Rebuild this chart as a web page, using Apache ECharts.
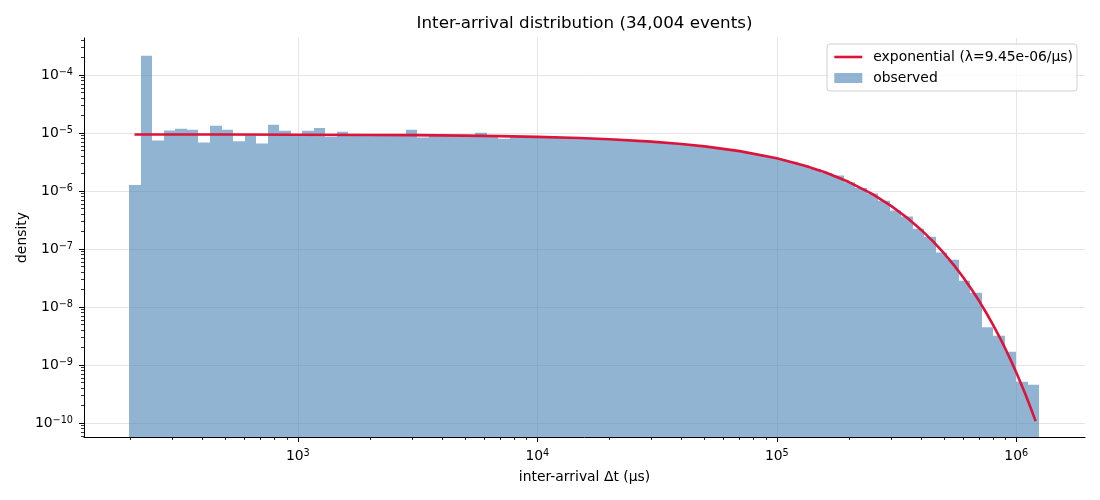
<!DOCTYPE html>
<html>
<head>
<meta charset="utf-8">
<title>Inter-arrival distribution</title>
<script src="https://cdn.jsdelivr.net/npm/echarts@6/dist/echarts.min.js"></script>
<style>
  html, body { margin: 0; padding: 0; background: #fff; }
  #chart { width: 1100px; height: 500px; }
</style>
</head>
<body>
<div id="chart"></div>
<script>
// histogram bins, log-spaced between first and last edge (in µs)
const BIN_LO = 198;
const BIN_HI = 1.25e6;
const BIN_COUNT = 79;

// observed density per bin
const density = [
  1.27e-6, 2.15e-4, 7.45e-6, 1.11e-5, 1.19e-5, 1.14e-5, 6.9e-6, 1.34e-5, 1.14e-5, 7.2e-6,
  9.1e-6, 6.6e-6, 1.39e-5, 1.10e-5, 9.6e-6, 1.10e-5, 1.22e-5, 8.6e-6, 1.05e-5, 9.4e-6,
  9.3e-6, 9.2e-6, 9.3e-6, 9.2e-6, 1.14e-5, 8.4e-6, 9.1e-6, 9.1e-6, 9.0e-6, 9.0e-6,
  1.01e-5, 8.9e-6, 7.97e-6, 8.8e-6, 8.65e-6, 8.6e-6, 8.5e-6, 8.4e-6, 8.25e-6, 8.15e-6,
  8.0e-6, 7.85e-6, 7.7e-6, 7.5e-6, 7.3e-6, 7.05e-6, 6.85e-6, 6.55e-6, 6.3e-6, 6.05e-6,
  5.7e-6, 5.4e-6, 5.05e-6, 4.7e-6, 4.3e-6, 3.85e-6, 3.55e-6, 3.2e-6, 2.8e-6, 2.4e-6,
  2.05e-6, 1.86e-6, 1.41e-6, 1.13e-6, 9.1e-7, 6.8e-7, 4.63e-7, 3.65e-7, 2.24e-7, 1.63e-7,
  8.75e-8, 6.55e-8, 2.85e-8, 1.77e-8, 4.5e-9, 3.2e-9, 1.69e-9, 5.15e-10, 4.57e-10
];

// fitted exponential curve
const fitT = [
  208, 300, 500, 1000, 2000, 3000, 5000, 7000, 10000, 15000,
  20000, 30000, 40000, 50000, 70000, 100000, 130000, 160000, 200000, 250000,
  300000, 350000, 400000, 450000, 500000, 550000, 600000, 650000, 700000, 750000,
  800000, 850000, 900000, 950000, 1000000, 1050000, 1100000, 1150000, 1204000
];
const fitDensity = [
  9.43e-6, 9.423e-6, 9.405e-6, 9.361e-6, 9.273e-6, 9.186e-6, 9.014e-6, 8.845e-6, 8.598e-6, 8.201e-6,
  7.822e-6, 7.117e-6, 6.475e-6, 5.891e-6, 4.877e-6, 3.673e-6, 2.766e-6, 2.084e-6, 1.428e-6, 8.90e-7,
  5.549e-7, 3.46e-7, 2.157e-7, 1.345e-7, 8.384e-8, 5.227e-8, 3.258e-8, 2.031e-8, 1.266e-8, 7.89e-9,
  4.92e-9, 3.07e-9, 1.913e-9, 1.192e-9, 7.43e-10, 4.63e-10, 2.89e-10, 1.80e-10, 1.08e-10
];

const xTicks = [1e3, 1e4, 1e5, 1e6];
const yTicks = [1e-10, 1e-9, 1e-8, 1e-7, 1e-6, 1e-5, 1e-4];

const X_MIN = 128, X_MAX = 1.936e6;
const Y_MIN = 5.74e-11, Y_MAX = 4.35e-4;

const FONT = 'DejaVu Sans';
const BAR_COLOR = 'rgba(70,130,180,0.6)';
const LINE_COLOR = '#dc143c';
const FIT_NAME = 'exponential (\u03bb=9.45e-06/\u03bcs)';

const edges = [];
const step = Math.log10(BIN_HI / BIN_LO) / BIN_COUNT;
for (let i = 0; i <= BIN_COUNT; i++) edges.push(BIN_LO * Math.pow(10, i * step));
const bars = density.map((d, i) => [edges[i], edges[i + 1], d]);

function minorTicks(lo, hi) {
  const out = [];
  for (let e = Math.floor(Math.log10(lo)); e <= Math.ceil(Math.log10(hi)); e++) {
    for (let m = 2; m <= 9; m++) {
      const v = m * Math.pow(10, e);
      if (v >= lo && v <= hi) out.push(v);
    }
  }
  return out;
}

function powLabel(v) {
  const e = Math.round(Math.log10(v));
  return '{b|10}{s|' + String(e).replace('-', '\u2212') + '}';
}

const labelRich = {
  b: { fontFamily: FONT, fontSize: 13.9, lineHeight: 16, color: '#000' },
  s: { fontFamily: FONT, fontSize: 9.7, lineHeight: 9, verticalAlign: 'top', color: '#000' }
};

function renderBar(params, api) {
  const top = api.coord([api.value(0), api.value(2)]);
  const bottom = api.coord([api.value(1), Y_MIN]);
  const x0 = Math.round(top[0]);
  const x1 = Math.round(bottom[0]);
  return {
    type: 'rect',
    shape: { x: x0, y: top[1], width: x1 - x0, height: bottom[1] - top[1] },
    style: api.style({ fill: BAR_COLOR, stroke: null })
  };
}

const chart = echarts.init(document.getElementById('chart'));

chart.setOption({
  backgroundColor: '#fff',
  animation: false,
  title: {
    text: 'Inter-arrival distribution (34,004 events)',
    left: 584.5,
    top: 15,
    padding: 0,
    textAlign: 'center',
    textStyle: { fontFamily: FONT, fontSize: 16.7, fontWeight: 'normal', color: '#000' }
  },
  legend: {
    orient: 'vertical',
    right: 23,
    top: 44,
    padding: [5, 4, 5, 6],
    itemWidth: 28,
    itemHeight: 10,
    itemGap: 5,
    backgroundColor: 'rgba(255,255,255,0.8)',
    borderColor: '#d0d0d0',
    borderWidth: 1,
    borderRadius: 3,
    textStyle: { fontFamily: FONT, fontSize: 13.9, color: '#000', padding: [0, 0, 0, 6], lineHeight: 16 },
    data: [
      { name: FIT_NAME, itemStyle: { opacity: 0 }, lineStyle: { width: 2.6 } },
      { name: 'observed', icon: 'rect' }
    ]
  },
  grid: { left: 84, right: 15, top: 38, bottom: 63 },
  xAxis: [
    {
      type: 'log',
      min: X_MIN,
      max: X_MAX,
      name: 'inter-arrival \u0394t (\u03bcs)',
      nameLocation: 'middle',
      nameGap: 33,
      nameMoveOverlap: false,
      nameTextStyle: { fontFamily: FONT, fontSize: 13.9, color: '#000' },
      axisLine: { show: true, lineStyle: { color: '#000', width: 1 } },
      axisTick: { show: true, length: 5, customValues: xTicks, lineStyle: { color: '#000', width: 1 } },
      axisLabel: { margin: 11, customValues: xTicks, formatter: powLabel, rich: labelRich },
      splitLine: { show: true, lineStyle: { color: '#e5e5e5', width: 1 } }
    },
    {
      type: 'log',
      min: X_MIN,
      max: X_MAX,
      position: 'bottom',
      axisLine: { show: false },
      axisTick: { show: true, length: 3, customValues: minorTicks(X_MIN, X_MAX), lineStyle: { color: '#000', width: 0.8 } },
      axisLabel: { show: false },
      splitLine: { show: false }
    }
  ],
  yAxis: [
    {
      type: 'log',
      min: Y_MIN,
      max: Y_MAX,
      name: 'density',
      nameLocation: 'middle',
      nameRotate: 90,
      nameGap: 55,
      nameMoveOverlap: false,
      nameTextStyle: { fontFamily: FONT, fontSize: 13.9, color: '#000' },
      axisLine: { show: true, lineStyle: { color: '#000', width: 1 } },
      axisTick: { show: true, length: 5, customValues: yTicks, lineStyle: { color: '#000', width: 1 } },
      axisLabel: { margin: 11, customValues: yTicks, formatter: powLabel, rich: labelRich },
      splitLine: { show: true, lineStyle: { color: '#e5e5e5', width: 1 } }
    },
    {
      type: 'log',
      min: Y_MIN,
      max: Y_MAX,
      position: 'left',
      axisLine: { show: false },
      axisTick: { show: true, length: 3, customValues: minorTicks(Y_MIN, Y_MAX), lineStyle: { color: '#000', width: 0.8 } },
      axisLabel: { show: false },
      splitLine: { show: false }
    }
  ],
  series: [
    {
      name: 'observed',
      type: 'custom',
      renderItem: renderBar,
      clip: true,
      itemStyle: { color: BAR_COLOR },
      encode: { x: [0, 1], y: 2 },
      data: bars,
      z: 2
    },
    {
      name: FIT_NAME,
      type: 'line',
      symbol: 'none',
      data: fitT.map((t, i) => [t, fitDensity[i]]),
      lineStyle: { color: LINE_COLOR, width: 2.6 },
      itemStyle: { color: LINE_COLOR },
      z: 3
    }
  ]
});
</script>
</body>
</html>
